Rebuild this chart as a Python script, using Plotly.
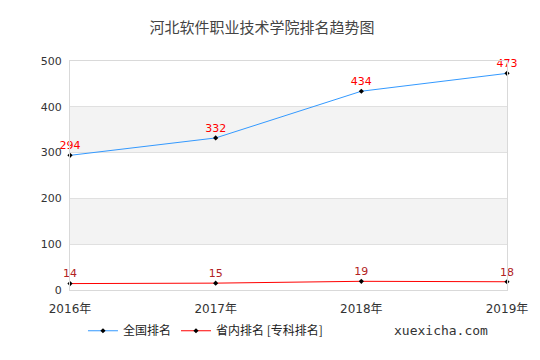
import plotly.graph_objects as go

years = ["2016年", "2017年", "2018年", "2019年"]
national = [294, 332, 434, 473]
province = [14, 15, 19, 18]
yticks = [0, 100, 200, 300, 400, 500]

font = "DejaVu Sans, Noto Sans CJK SC, sans-serif"
fig = go.Figure()
fig.add_trace(go.Scatter(
    x=years, y=national, mode="lines+markers+text", name="全国排名",
    line=dict(color="#3399ff", width=1),
    marker=dict(symbol="diamond", size=4, color="#000000"),
    text=[str(v) for v in national], textposition="top center",
    textfont=dict(color="#ff0000", size=11, family=font),
    cliponaxis=False))
fig.add_trace(go.Scatter(
    x=years, y=province, mode="lines+markers+text", name="省内排名 [专科排名]",
    line=dict(color="#ff0000", width=1),
    marker=dict(symbol="diamond", size=4, color="#000000"),
    text=[str(v) for v in province], textposition="top center",
    textfont=dict(color="#b22222", size=11, family=font),
    cliponaxis=False))

for lo in (100, 300):
    fig.add_shape(type="rect", xref="paper", yref="y", x0=0, x1=1, y0=lo, y1=lo + 100,
                  fillcolor="#f3f3f3", line_width=0, layer="below")

fig.add_annotation(text="xuexicha.com", xref="paper", yref="paper", x=0.96, y=-0.178,
                   xanchor="right", yanchor="middle", showarrow=False,
                   font=dict(size=13, color="#333333", family="DejaVu Sans Mono, monospace"))

fig.update_layout(
    width=540, height=360,
    margin=dict(l=70, r=29, t=61, b=70),
    paper_bgcolor="white", plot_bgcolor="white",
    title=dict(text="河北软件职业技术学院排名趋势图", x=0.485, y=0.922, xanchor="center", yanchor="middle",
               font=dict(size=15, color="#444444", family="Noto Sans CJK SC, sans-serif")),
    font=dict(family=font, size=11, color="#333333"),
    showlegend=True,
    legend=dict(orientation="h", x=0.31, xanchor="center", y=-0.178, yanchor="middle",
                font=dict(size=12, color="#222222", family="Noto Sans CJK SC, sans-serif"),
                itemwidth=30),
    xaxis=dict(type="category", range=[0, 3], showgrid=False, showline=True, linecolor="#d9d9d9",
               mirror=True, ticks="", tickfont=dict(size=12, color="#333333"), zeroline=False,
               ticklabelstandoff=8),
    yaxis=dict(range=[0, 500], tickvals=yticks, showgrid=True, gridcolor="#e0e0e0", showline=True,
               linecolor="#d9d9d9", mirror=True, ticks="", zeroline=False,
               tickfont=dict(size=11, color="#333333"), ticklabelstandoff=5),
)
fig.write_html("out.html")
